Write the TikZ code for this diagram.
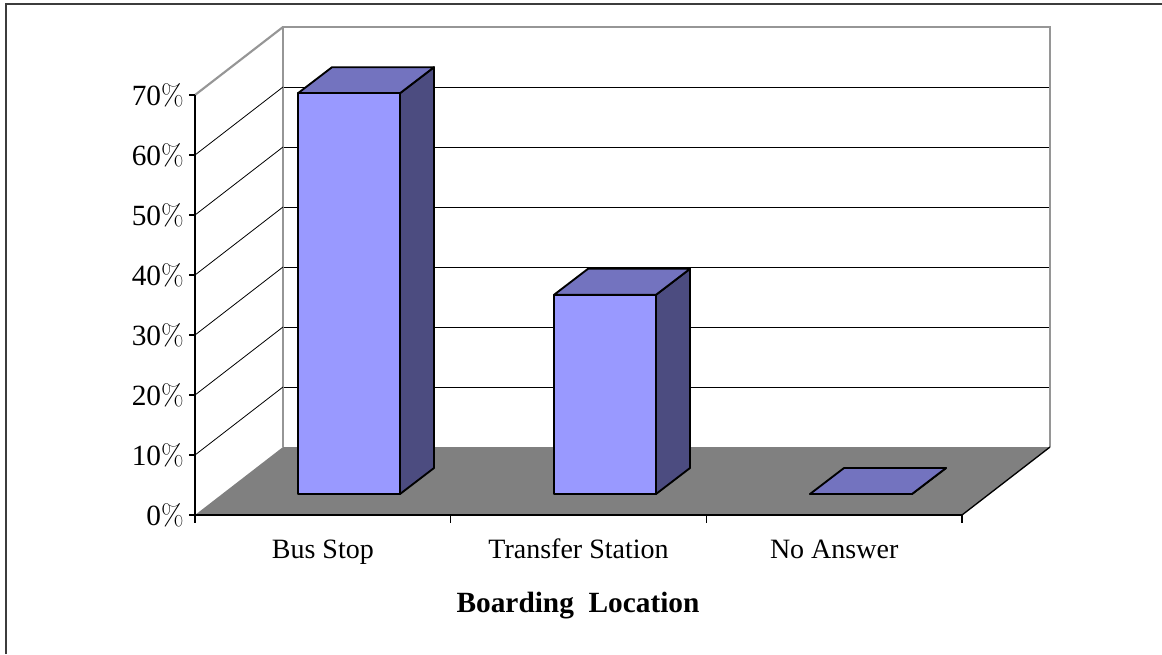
\documentclass[tikz,border=0pt]{standalone}
\usepackage{fontspec}
\setmainfont{Liberation Serif}
\newfontfamily\lmpct{Latin Modern Roman}
\usetikzlibrary{positioning}
\definecolor{barfront}{RGB}{153,153,255}
\definecolor{bartop}{RGB}{115,115,191}
\definecolor{barside}{RGB}{76,76,128}
\definecolor{floorgray}{RGB}{128,128,128}
\definecolor{walledge}{RGB}{150,150,150}
\definecolor{framegray}{RGB}{60,60,60}
\tikzset{
  gridline/.style={black, line width=0.6pt},
  wallline/.style={walledge, line width=1.6pt},
  axisline/.style={black, line width=1pt},
  barface/.style={draw=black, line width=1.4pt, line join=round},
  ylabel/.style={anchor=east, inner sep=0pt,
                 font=\fontsize{22}{26}\selectfont},
  xlabel/.style={anchor=base, inner sep=0pt,
                 font=\fontsize{21}{25}\selectfont},
  titlelabel/.style={anchor=base, inner sep=0pt,
                     font=\fontsize{22}{26}\selectfont\bfseries},
}

\begin{document}
\begin{tikzpicture}[x=0.75pt, y=-0.75pt]
\useasboundingbox (0,0) rectangle (1162,654);
% outer frame (only top and left edges show)
\draw[framegray, line width=1.8pt] (6,654) -- (6,4) -- (1162,4);

% back wall and left wall
\fill[white] (283,27) rectangle (1050,447);
\foreach \k in {1,...,6}
  \draw[gridline] (283,447-60*\k) -- (1050,447-60*\k);
\draw[wallline] (283,447) -- (283,27) -- (1050,27) -- (1050,447);
\foreach \k in {1,...,6}
  \draw[gridline] (195,515-60*\k) -- (283,447-60*\k);
\draw[wallline] (195,95) -- (283,27);

% floor
\fill[floorgray] (195,515) -- (962,515) -- (1050,447) -- (283,447) -- cycle;
\draw[black, line width=1pt] (962,515) -- (1050,447);
\draw[black, line width=1.8pt] (195,515) -- (962,515);

% value axis with ticks and percent labels
\draw[axisline] (195,95) -- (195,515);
\foreach \k in {0,...,7} {
  \draw[axisline] (189,515-60*\k) -- (195,515-60*\k);
  \node[ylabel] (y\k) at (184,515-60*\k)
    {\ifnum\k=0 0\else\k0\fi{\lmpct\%}};
}

% category ticks along the front edge
\foreach \k in {0,...,3}
  \draw[axisline] ({195+255.67*\k},515) -- ({195+255.67*\k},523);

% bars: front face, side and top, depth offset (34,-26)
\foreach \val/\xl [count=\i] in {66.8/298, 33.2/554, 0/810} {
  \pgfmathsetmacro\ytop{494-6*\val}
  \filldraw[barface, fill=barside] (\xl+102,494) -- (\xl+136,468)
    -- (\xl+136,\ytop-26) -- (\xl+102,\ytop) -- cycle;
  \filldraw[barface, fill=bartop] (\xl,\ytop) -- (\xl+34,\ytop-26)
    -- (\xl+136,\ytop-26) -- (\xl+102,\ytop) -- cycle;
  \filldraw[barface, fill=barfront] (\xl,494) rectangle (\xl+102,\ytop);
}

% category names and axis title
\foreach \name [count=\i] in {Bus Stop, Transfer Station, No Answer}
  \node[xlabel] (cat\i) at ({195+255.67*(\i-0.5)},558) {\name};
\node[titlelabel] (title) at (578,612) {Boarding\ \ Location};
\end{tikzpicture}
\end{document}
